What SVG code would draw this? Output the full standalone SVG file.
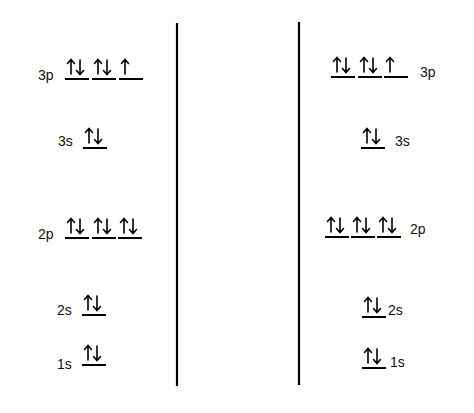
<svg xmlns="http://www.w3.org/2000/svg" xmlns:xlink="http://www.w3.org/1999/xlink" width="474" height="413" viewBox="0 0 474 413">
<style>
.lvl{stroke:#000;stroke-width:2;fill:none}
.arr{stroke:#000;stroke-width:1.6;fill:none;stroke-linecap:round;stroke-linejoin:miter}
.div{stroke:#000;stroke-width:2.2}
text{font-family:"Liberation Sans",Arial,sans-serif;font-size:14px;fill:#111}
</style>
<defs>
<g id="up"><path class="arr" d="M6,-5 V-19 M2.5,-15.5 L6,-19.5 L9.5,-15.5"/></g>
<g id="dn"><path class="arr" d="M15,-19 V-5 M11.5,-8.5 L15,-4.5 L18.5,-8.5"/></g>
<g id="pair"><line class="lvl" x1="0" y1="0" x2="24" y2="0"/><use xlink:href="#up"/><use xlink:href="#dn"/></g>
<g id="single"><line class="lvl" x1="0" y1="0" x2="24" y2="0"/><use xlink:href="#up"/></g>
</defs>
<g id="connectors">
<line class="div" x1="177" y1="23" x2="177" y2="386"/>
<line class="div" x1="299" y1="22" x2="299" y2="385"/>
</g>
<g id="left-3p"><text x="38" y="80">3p</text><use xlink:href="#pair" x="65" y="79"/><use xlink:href="#pair" x="92" y="79"/><use xlink:href="#single" x="119" y="79"/></g>
<g id="left-3s"><text x="58" y="146">3s</text><use xlink:href="#pair" x="83" y="148"/></g>
<g id="left-2p"><text x="38" y="239">2p</text><use xlink:href="#pair" x="65" y="238"/><use xlink:href="#pair" x="92" y="238"/><use xlink:href="#pair" x="118" y="238"/></g>
<g id="left-2s"><text x="57" y="315">2s</text><use xlink:href="#pair" x="82" y="315"/></g>
<g id="left-1s"><text x="57" y="369">1s</text><use xlink:href="#pair" x="82" y="365"/></g>
<g id="right-3p"><use xlink:href="#pair" x="331" y="77"/><use xlink:href="#pair" x="358" y="77"/><use xlink:href="#single" x="384" y="77"/><text x="420" y="77">3p</text></g>
<g id="right-3s"><use xlink:href="#pair" x="361" y="148"/><text x="395" y="146">3s</text></g>
<g id="right-2p"><use xlink:href="#pair" x="325" y="237"/><use xlink:href="#pair" x="351" y="237"/><use xlink:href="#pair" x="377" y="237"/><text x="410" y="234">2p</text></g>
<g id="right-2s"><use xlink:href="#pair" x="362" y="317"/><text x="388" y="315">2s</text></g>
<g id="right-1s"><use xlink:href="#pair" x="362" y="368"/><text x="390" y="367">1s</text></g>
</svg>
